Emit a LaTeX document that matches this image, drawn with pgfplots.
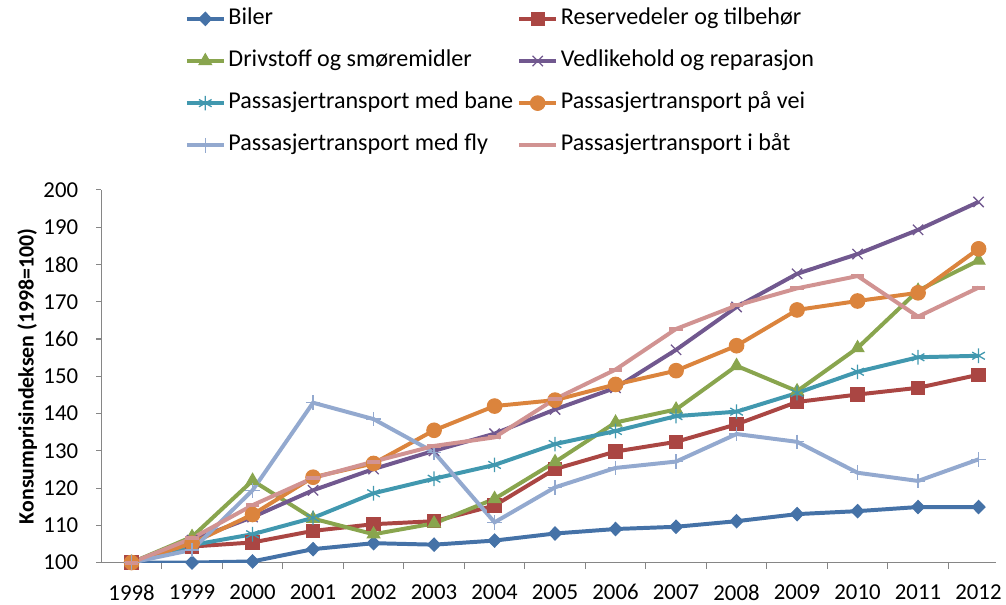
\documentclass[border=0pt]{standalone}
\usepackage{pgfplots}
\pgfplotsset{compat=1.18}
\usepackage{fontspec}
\setmainfont{Carlito}
\definecolor{cBiler}{HTML}{4572A7}
\definecolor{cRes}{HTML}{AA4643}
\definecolor{cDriv}{HTML}{89A54E}
\definecolor{cVed}{HTML}{71588F}
\definecolor{cBane}{HTML}{4198AF}
\definecolor{cVei}{HTML}{DB843D}
\definecolor{cFly}{HTML}{93A9CF}
\definecolor{cBat}{HTML}{D19392}
\definecolor{axisgray}{HTML}{868686}
\begin{document}
\begin{tikzpicture}
\begin{axis}[
  scale only axis,
  width=675pt, height=281.25pt,
  xmin=1997.5, xmax=2012.28,
  ymin=100, ymax=200,
  axis x line*=bottom, axis y line*=left,
  axis line style={draw=axisgray, line width=0.8pt, -},
  font=\fontsize{17.2}{20}\selectfont,
  ticklabel style={font=\fontsize{17.2}{20}\selectfont},
  /pgf/number format/assume math mode=true,
  /pgf/number format/1000 sep={},
  xtick={1998,1999,...,2012},
  minor xtick={1998.5,1999.5,...,2011.5},
  every major x tick/.append style={draw=none},
  every minor x tick/.append style={draw=axisgray, line width=0.8pt},
  ytick={100,110,...,200},
  every major y tick/.append style={draw=axisgray, line width=0.8pt},
  tick align=outside,
  major tick length=4pt,
  minor tick length=5pt,
  xticklabel style={yshift=-9pt},
  yticklabel style={xshift=-10pt},
  ylabel={\bfseries Konsumprisindeksen (1998=100)},
  ylabel style={font=\fontsize{16.5}{19}\selectfont, yshift=-2pt, text height=22pt},
  legend columns=2,
  legend cell align=left,
  legend style={draw=none, fill=none, at={(rel axis cs:0,1)}, anchor=south west,
    xshift=63pt, yshift=19.5pt, inner xsep=0pt, inner ysep=4pt, outer sep=0pt,
    row sep=11.3pt, column sep=0pt,
    /tikz/column 2/.style={column sep=1pt},
    nodes={inner sep=2pt, text height=12.5pt, text depth=4pt},
    font=\fontsize{18.2}{21}\selectfont},
  legend image code/.code={\draw[mark repeat=2,mark phase=2,#1] plot coordinates {(0pt,0pt)(14pt,0pt)(28pt,0pt)};},
  every axis plot/.append style={line width=3pt},
]
\addplot[color=cBiler, mark=diamond*, mark size=5pt, mark options={xscale=1.3, line width=0.8pt}] coordinates {
(1998,100) (1999,100) (2000,100.3) (2001,103.6) (2002,105.2) (2003,104.8) (2004,105.9) (2005,107.8) (2006,109.0) (2007,109.6) (2008,111.1) (2009,113.0) (2010,113.8) (2011,114.9) (2012,114.9)};
\addlegendentry{Biler}
\addplot[color=cRes, mark=square*, mark size=5pt, mark options={line width=0.8pt}] coordinates {
(1998,100) (1999,104.3) (2000,105.4) (2001,108.5) (2002,110.3) (2003,111.1) (2004,115.3) (2005,125.1) (2006,129.8) (2007,132.4) (2008,137.1) (2009,143.1) (2010,145.1) (2011,146.9) (2012,150.4)};
\addlegendentry{Reservedeler og tilbehør}
\addplot[color=cDriv, mark=triangle*, mark size=5.5pt, mark options={line width=0.8pt}] coordinates {
(1998,100) (1999,106.9) (2000,122.0) (2001,111.8) (2002,107.6) (2003,110.5) (2004,117.1) (2005,127.0) (2006,137.6) (2007,141.1) (2008,152.8) (2009,146.0) (2010,157.6) (2011,173.0) (2012,181.1)};
\addlegendentry{Drivstoff og smøremidler}
\addplot[color=cVed, mark=x, mark size=5.5pt, mark options={line width=1pt}] coordinates {
(1998,100) (1999,106.0) (2000,112.2) (2001,119.4) (2002,125.1) (2003,130.0) (2004,134.6) (2005,141.1) (2006,146.9) (2007,157.1) (2008,168.6) (2009,177.5) (2010,182.8) (2011,189.3) (2012,196.8)};
\addlegendentry{Vedlikehold og reparasjon}
\addplot[color=cBane, mark=asterisk, mark size=5.5pt, mark options={line width=1pt}] coordinates {
(1998,100) (1999,104.7) (2000,107.6) (2001,112.0) (2002,118.6) (2003,122.5) (2004,126.2) (2005,131.8) (2006,135.3) (2007,139.3) (2008,140.5) (2009,145.5) (2010,151.2) (2011,155.1) (2012,155.5)};
\addlegendentry{Passasjertransport med bane}
\addplot[color=cVei, mark=*, mark size=5.5pt, mark options={line width=0.8pt}] coordinates {
(1998,100) (1999,105.2) (2000,112.9) (2001,122.9) (2002,126.6) (2003,135.5) (2004,142.0) (2005,143.6) (2006,147.8) (2007,151.5) (2008,158.2) (2009,167.8) (2010,170.2) (2011,172.4) (2012,184.2)};
\addlegendentry{Passasjertransport på vei}
\addplot[color=cFly, mark=+, mark size=5.5pt, mark options={line width=1pt}] coordinates {
(1998,100) (1999,103.4) (2000,119.4) (2001,142.9) (2002,138.5) (2003,129.6) (2004,110.8) (2005,120.2) (2006,125.4) (2007,127.1) (2008,134.5) (2009,132.4) (2010,124.1) (2011,121.9) (2012,127.7)};
\addlegendentry{Passasjertransport med fly}
\addplot[color=cBat, mark=-, mark size=5pt, mark options={line width=3pt}] coordinates {
(1998,100) (1999,106.5) (2000,115.4) (2001,122.7) (2002,127.1) (2003,131.3) (2004,133.6) (2005,143.9) (2006,151.8) (2007,162.7) (2008,169.0) (2009,173.6) (2010,176.9) (2011,166.0) (2012,173.8)};
\addlegendentry{Passasjertransport i båt}
\end{axis}
\end{tikzpicture}
\end{document}
